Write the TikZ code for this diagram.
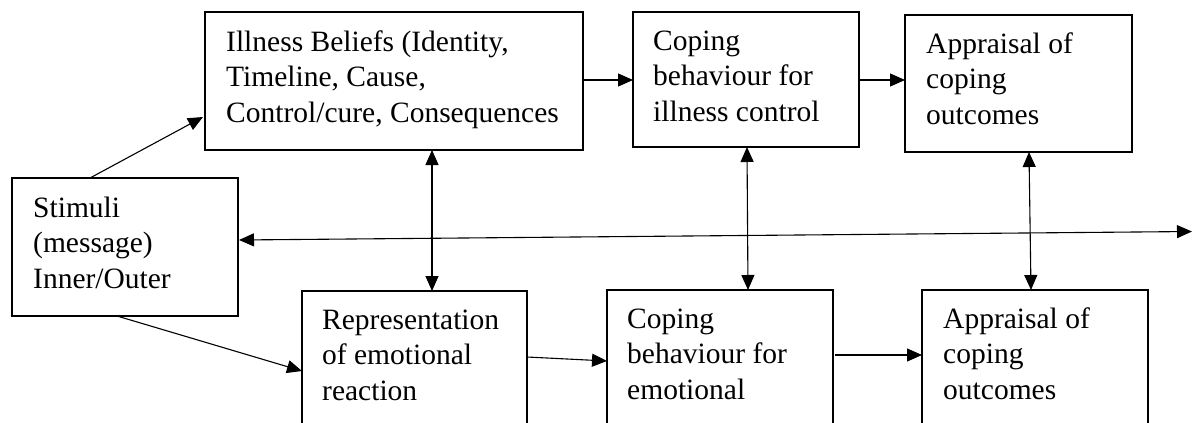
\documentclass[tikz,border=0pt]{standalone}
\usepackage{fontspec}
\setmainfont{Liberation Serif}
\usetikzlibrary{arrows.meta,calc}

% multi-line box text whose reference point is the first baseline
\newcommand{\boxtext}[1]{\begin{tabular}[t]{@{}l@{}}#1\end{tabular}}

\tikzset{
  box/.style={draw, line width=1.6pt, inner sep=0pt, outer sep=0pt, anchor=north west},
  txt/.style={anchor=base west, inner sep=0pt, font=\fontsize{29.5}{35.5}\selectfont},
  arr/.style={line width=1.1pt, -{Triangle[length=15pt,width=13pt]}},
  biarr/.style={line width=1.1pt, {Triangle[length=15pt,width=13pt]}-{Triangle[length=15pt,width=13pt]}}
}

\begin{document}
\begin{tikzpicture}[x=1pt, y=-1pt]
  \useasboundingbox (0,0) rectangle (1192,423);
  \clip (0,0) rectangle (1192,423);

  % boxes
  \node[box, minimum width=378pt, minimum height=138pt] (A)  at (205,12)  {};
  \node[box, minimum width=226pt, minimum height=135pt] (B)  at (633,12)  {};
  \node[box, minimum width=227pt, minimum height=137pt] (C)  at (905,15)  {};
  \node[box, minimum width=226pt, minimum height=138pt] (S)  at (12,178)  {};
  \node[box, minimum width=225pt, minimum height=160pt] (R)  at (302,291) {};
  \node[box, minimum width=226pt, minimum height=160pt] (CE) at (607,290) {};
  \node[box, minimum width=226pt, minimum height=160pt] (AE) at (922,290) {};

  % box texts
  \node[txt] (At)  at (226,51.5)  {\boxtext{Illness Beliefs (Identity,\\Timeline, Cause,\\Control/cure, Consequences}};
  \node[txt] (Bt)  at (653,50)    {\boxtext{Coping\\behaviour for\\illness control}};
  \node[txt] (Ct)  at (926,53)    {\boxtext{Appraisal of\\coping\\outcomes}};
  \node[txt] (St)  at (33,217)    {\boxtext{Stimuli\\(message)\\Inner/Outer}};
  \node[txt] (Rt)  at (322,329)   {\boxtext{Representation\\of emotional\\reaction}};
  \node[txt] (CEt) at (627,328)   {\boxtext{Coping\\behaviour for\\emotional}};
  \node[txt] (AEt) at (943,328)   {\boxtext{Appraisal of\\coping\\outcomes}};

  % free end of the long double arrow
  \coordinate (E) at (1192,231.5);

  % connectors
  \draw[arr] ($(S.north west)+(78,0)$) -- ($(A.north west)+(-2,105)$);
  \draw[arr] ($(S.south west)+(105,0)$) -- ($(R.north west)+(0,80)$);
  \draw[arr] ($(A.north east)+(0,68)$) -- ($(B.north west)+(0,68)$);
  \draw[arr] ($(B.north east)+(0,68)$) -- ($(C.north west)+(0,65)$);
  \draw[arr] ($(R.north east)+(0,66)$) -- ($(CE.north west)+(0,71)$);
  \draw[arr] ($(CE.north east)+(2,65)$) -- ($(AE.north west)+(0,65)$);

  \draw[biarr] ($(A.south west)+(227,0)$) -- ($(R.north west)+(130,0)$);
  \draw[biarr] ($(B.south west)+(114,0)$) -- ($(CE.north west)+(141,0)$);
  \draw[biarr] ($(C.south west)+(124,0)$) -- ($(AE.north west)+(109,0)$);

  \draw[biarr] ($(S.north east)+(1,62)$) -- (E);
\end{tikzpicture}
\end{document}
